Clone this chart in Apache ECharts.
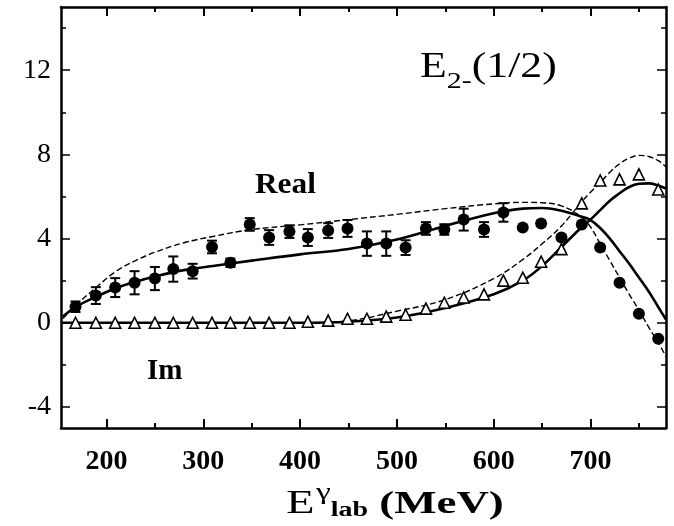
<!DOCTYPE html>
<html>
<head>
<meta charset="utf-8">
<script src="https://cdn.jsdelivr.net/npm/echarts@6/dist/echarts.min.js"></script>
<style>
  html, body { margin: 0; padding: 0; background: #fff; }
  #main { width: 674px; height: 526px; }
</style>
</head>
<body>
<div id="main"></div>
<script>
// photon lab energy (MeV) of the data points
var energy = [168, 189, 209, 229, 250, 269, 289, 309, 328, 348, 368, 389, 408, 429, 449, 469,
              489, 509, 530, 549, 569, 590, 610, 630, 649, 670, 691, 710, 730, 750, 770];
var realVal = [0.76, 1.29, 1.67, 1.9, 2.1, 2.55, 2.45, 3.6, 2.85, 4.67, 4.05, 4.33, 4.05, 4.38, 4.48, 3.76,
               3.76, 3.57, 4.48, 4.43, 4.9, 4.43, 5.24, 4.52, 4.71, 4.05, 4.67, 3.57, 1.9, 0.43, -0.76];
var realErr = [0.25, 0.4, 0.45, 0.55, 0.55, 0.6, 0.35, 0.3, 0.2, 0.3, 0.35, 0.3, 0.4, 0.35, 0.4, 0.58,
               0.58, 0.35, 0.3, 0.25, 0.52, 0.35, 0.44, 0, 0, 0, 0, 0, 0, 0, 0];
var imVal = [0, 0, 0, 0, 0, 0, 0, 0, 0, 0, 0, 0, 0.05, 0.1, 0.19, 0.19,
             0.29, 0.38, 0.67, 0.95, 1.2, 1.35, 2.0, 2.14, 2.9, 3.5, 5.67, 6.76, 6.81, 7.05, 6.33];

// fit curves
var fitE = [155, 170, 190, 210, 230, 250, 280, 310, 350, 400, 450, 500, 550, 600, 630, 650, 670,
            690, 700, 710, 720, 730, 740, 750, 760, 770, 778];
var realSolid = [0.3, 0.8, 1.25, 1.65, 1.95, 2.2, 2.5, 2.7, 2.95, 3.25, 3.5, 3.95, 4.6, 5.2, 5.42, 5.45, 5.32,
                 5.05, 4.88, 4.5, 4.0, 3.4, 2.8, 2.15, 1.5, 0.75, 0.15];
var realDash = [0.2, 0.9, 1.7, 2.45, 2.95, 3.35, 3.8, 4.1, 4.43, 4.65, 4.9, 5.15, 5.42, 5.65, 5.72, 5.7, 5.55,
                5.05, 4.55, 3.75, 2.95, 2.15, 1.35, 0.6, -0.2, -0.95, -1.6];
var imSolid = [0, 0, 0, 0, 0, 0, 0, 0, 0, 0, 0.05, 0.25, 0.7, 1.35, 2.0, 2.7, 3.6,
               4.5, 4.9, 5.35, 5.8, 6.15, 6.45, 6.6, 6.62, 6.52, 6.38];
var imDash = [0, 0, 0, 0, 0, 0, 0, 0, 0, 0, 0.1, 0.55, 1.1, 2.1, 3.0, 3.75, 4.6,
              5.7, 6.2, 6.65, 7.15, 7.55, 7.82, 7.95, 7.9, 7.7, 7.4];

var xMajor = [200, 300, 400, 500, 600, 700];
var xMinor = [250, 350, 450, 550, 650, 750];
var yMajor = [-4, 0, 4, 8, 12];
var yMinor = [-2, 2, 6, 10, 14];

var serif = "'Liberation Serif', 'DejaVu Serif', serif";

function pairs(xs, ys) { return xs.map(function (x, i) { return [x, ys[i]]; }); }

function mkX(pos, ticks, len, label, line) {
  return {
    type: 'value', position: pos, min: 153, max: 778,
    axisLine: { show: line, onZero: false, lineStyle: { color: '#000', width: 2.5 } },
    axisTick: { show: true, inside: true, length: len, customValues: ticks, lineStyle: { color: '#000', width: 2 } },
    axisLabel: label ? { show: true, customValues: ticks, margin: 20, color: '#000', fontFamily: serif, fontSize: 28, fontWeight: 'bold' } : { show: false },
    splitLine: { show: false }
  };
}
function mkY(pos, ticks, len, label, line) {
  return {
    type: 'value', position: pos, min: -5, max: 15,
    axisLine: { show: line, onZero: false, lineStyle: { color: '#000', width: 2.5 } },
    axisTick: { show: true, inside: true, length: len, customValues: ticks, lineStyle: { color: '#000', width: 1.5 } },
    axisLabel: label ? { show: true, customValues: ticks, margin: 10, color: '#000', fontFamily: serif, fontSize: 28 } : { show: false },
    splitLine: { show: false }
  };
}

var chart = echarts.init(document.getElementById('main'), null, { renderer: 'canvas' });

var option = {
  backgroundColor: '#fff',
  animation: false,
  grid: { left: 61, right: 8, top: 7, bottom: 98, outerBoundsMode: 'none', containLabel: false },
  xAxis: [
    mkX('bottom', xMajor, 9, true, true),
    mkX('bottom', xMinor, 5, false, false),
    mkX('top', xMajor, 9, false, true),
    mkX('top', xMinor, 5, false, false)
  ],
  yAxis: [
    mkY('left', yMajor, 9, true, true),
    mkY('left', yMinor, 5, false, false),
    mkY('right', yMajor, 9, false, true),
    mkY('right', yMinor, 5, false, false)
  ],
  graphic: [
    { type: 'text', x: 255, y: 171, scaleX: 1.08, style: { text: 'Real', fontFamily: serif, fontSize: 29, fontWeight: 'bold', fill: '#000' } },
    { type: 'text', x: 147, y: 357, style: { text: 'Im', fontFamily: serif, fontSize: 29, fontWeight: 'bold', fill: '#000' } },
    { type: 'text', x: 420, y: 50, scaleX: 1.25, style: {
        text: '{a|E}{s|2-}{a|(1/2)}', fill: '#000',
        rich: {
          a: { fontFamily: serif, fontSize: 35, lineHeight: 44, verticalAlign: 'top' },
          s: { fontFamily: serif, fontSize: 24, verticalAlign: 'bottom' }
        }
    } },
    // x axis title
    { type: 'text', x: 395, y: 501, scaleX: 1.4, style: {
        text: '{e|E}{sup|γ}{sub|lab}{n| (MeV)}', fill: '#000', align: 'center', verticalAlign: 'middle',
        rich: {
          e: { fontSize: 33, fontFamily: serif, lineHeight: 40, verticalAlign: 'bottom' },
          sup: { fontSize: 24, fontFamily: serif, verticalAlign: 'top', padding: [0, 0, 0, 1] },
          sub: { fontSize: 20, fontFamily: serif, fontWeight: 'bold', verticalAlign: 'bottom', padding: [12, 0, 0, 0] },
          n: { fontSize: 32, fontFamily: serif, fontWeight: 'bold', verticalAlign: 'bottom' }
        }
    } }
  ],
  series: [
    { type: 'line', name: 'Re fit', data: pairs(fitE, realSolid), smooth: 0.4, showSymbol: false,
      lineStyle: { color: '#000', width: 2.6 }, silent: true },
    { type: 'line', name: 'Re fit 2', data: pairs(fitE, realDash), smooth: 0.4, showSymbol: false,
      lineStyle: { color: '#000', width: 1.4, type: [6, 3] }, silent: true },
    { type: 'line', name: 'Im fit', data: pairs(fitE, imSolid), smooth: 0.4, showSymbol: false,
      lineStyle: { color: '#000', width: 2.6 }, silent: true },
    { type: 'line', name: 'Im fit 2', data: pairs(fitE, imDash), smooth: 0.4, showSymbol: false,
      lineStyle: { color: '#000', width: 1.4, type: [6, 3] }, silent: true },
    { type: 'custom', name: 'Re err',
      data: energy.map(function (x, i) { return [x, realVal[i], realErr[i]]; }),
      renderItem: function (params, api) {
        var e = api.value(2);
        if (!e) return null;
        var x = api.value(0), y = api.value(1);
        var t = api.coord([x, y + e]), b = api.coord([x, y - e]);
        var st = { stroke: '#000', lineWidth: 2 };
        return { type: 'group', children: [
          { type: 'line', shape: { x1: t[0], y1: t[1], x2: b[0], y2: b[1] }, style: st },
          { type: 'line', shape: { x1: t[0] - 5, y1: t[1], x2: t[0] + 5, y2: t[1] }, style: st },
          { type: 'line', shape: { x1: b[0] - 5, y1: b[1], x2: b[0] + 5, y2: b[1] }, style: st }
        ] };
      }, z: 3 },
    { type: 'scatter', name: 'Re', data: pairs(energy, realVal), symbol: 'circle', symbolSize: 12,
      itemStyle: { color: '#000', opacity: 1 }, z: 4 },
    { type: 'scatter', name: 'Im', data: pairs(energy, imVal), symbol: 'triangle', symbolSize: 11,
      itemStyle: { color: '#fff', borderColor: '#000', borderWidth: 1.6, opacity: 1 }, z: 4 }
  ]
};
chart.setOption(option);
</script>
</body>
</html>
